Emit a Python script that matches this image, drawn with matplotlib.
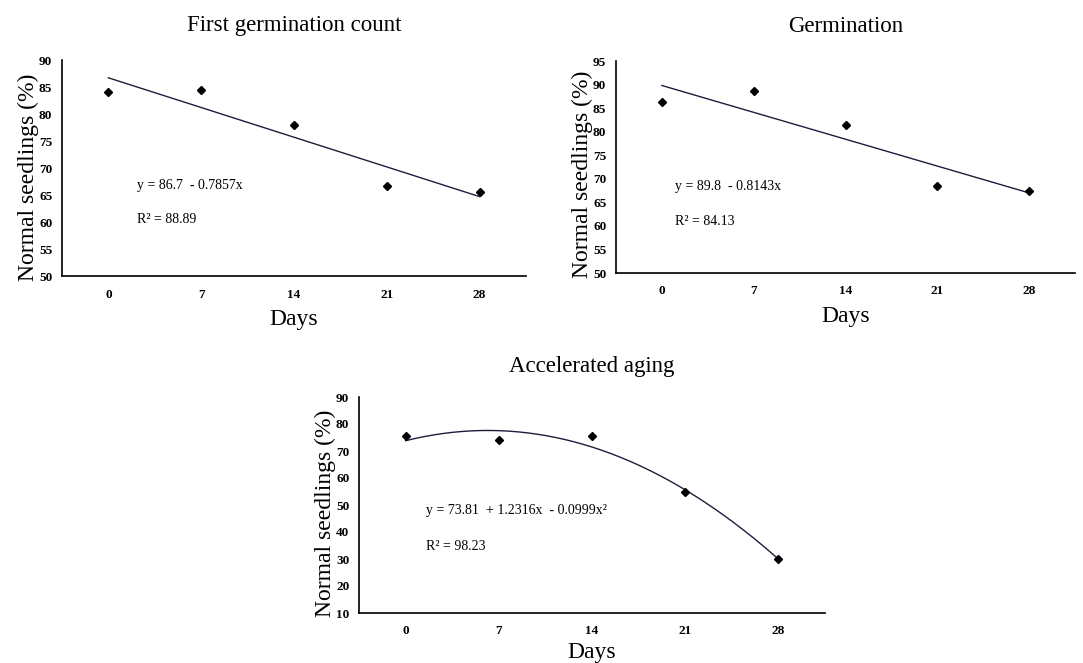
import matplotlib
matplotlib.use("Agg")
import matplotlib.pyplot as plt
import numpy as np

plt.rcParams['font.family'] = ['Liberation Serif', 'DejaVu Serif']

# data
days = [0, 7, 14, 21, 28]
first_count = [84.0, 84.4, 77.9, 66.6, 65.5]
germination = [86.2, 88.6, 81.4, 68.4, 67.4]
aging = [75.4, 74.1, 75.4, 54.8, 29.9]

# trendline coefficients as printed on the chart (highest power first)
coef_first = [-0.7857, 86.7]
coef_germ = [-0.8143, 89.8]
coef_aging = [-0.0999, 1.2316, 73.81]

W, H = 1083, 663
LINE = '#1b1f3b'


def panel(rect, x, y, coef, ylim, ystep, title, eq, r2, eqpos, r2y, tpad,
          xpad=6, ylab_y=0.46):
    l, t, r, b = rect
    ax = fig.add_axes([l / W, 1 - b / H, (r - l) / W, (b - t) / H])
    xs = np.linspace(0, 28, 200)
    ax.plot(xs, np.polyval(coef, xs), color=LINE, lw=1.0, zorder=2)
    ax.plot(x, y, 'D', color='black', ms=4, zorder=3)
    ax.set_xlim(-3.5, 31.5)
    ax.set_ylim(*ylim)
    ax.set_xticks(days)
    ax.set_yticks(np.arange(ylim[0], ylim[1] + 0.1, ystep))
    ax.tick_params(length=0, labelsize=9.5)
    ax.tick_params(axis='y', pad=7)
    ax.tick_params(axis='x', pad=9)
    for lab in ax.get_xticklabels() + ax.get_yticklabels():
        lab.set_fontweight('bold')
    for s in ['top', 'right']:
        ax.spines[s].set_visible(False)
    for s in ['left', 'bottom']:
        ax.spines[s].set_linewidth(1.2)
    ax.set_xlabel('Days', fontsize=17, labelpad=xpad)
    ax.set_ylabel('Normal seedlings (%)', fontsize=17, labelpad=0, y=ylab_y)
    ax.set_title(title, fontsize=16.5, pad=tpad)
    ax.text(eqpos[0], eqpos[1], eq, transform=ax.transAxes, fontsize=10,
            va='center', ha='left')
    ax.text(eqpos[0], r2y, r2, transform=ax.transAxes, fontsize=10,
            va='center', ha='left')
    return ax


fig = plt.figure(figsize=(W / 100, H / 100), dpi=100)

panel((62, 60, 526, 276), days, first_count, coef_first, (50, 90), 5,
      'First germination count', 'y = 86.7  - 0.7857x', 'R² = 88.89',
      (0.162, 0.42), 0.26, 21, ylab_y=0.458)
panel((616, 61, 1075, 273), days, germination, coef_germ, (50, 95), 5,
      'Germination', 'y = 89.8  - 0.8143x', 'R² = 84.13',
      (0.129, 0.41), 0.245, 21, ylab_y=0.467)
panel((359, 397, 825, 613), days, aging, coef_aging, (10, 90), 10,
      'Accelerated aging', 'y = 73.81  + 1.2316x  - 0.0999x²', 'R² = 98.23',
      (0.144, 0.474), 0.31, 18, xpad=3, ylab_y=0.463)

fig.savefig('out.png', dpi=100)
